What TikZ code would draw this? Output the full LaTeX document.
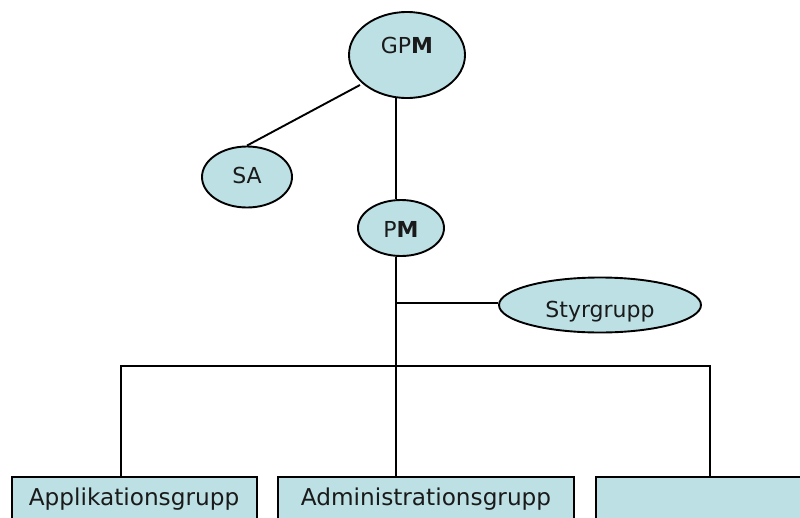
\documentclass[tikz,border=0pt]{standalone}
\usepackage{fontspec}
\setmainfont{DejaVu Sans}
\usetikzlibrary{shapes.geometric,backgrounds}
\definecolor{boxfill}{RGB}{188,224,228}
\definecolor{ink}{RGB}{26,26,26}
\begin{document}
\begin{tikzpicture}[x=1pt,y=-1pt,
  oval/.style={ellipse,draw=black,line width=1.9pt,fill=boxfill,inner sep=0pt},
  grpbox/.style={rectangle,draw=black,line width=1.9pt,fill=boxfill,inner sep=0pt,anchor=north west},
  lbl/.style={anchor=base,text=ink,font=\fontsize{22}{24}\selectfont,inner sep=0pt},
  grplbl/.style={lbl,font=\fontsize{23.2}{25}\selectfont},
  wire/.style={draw=black,line width=1.9pt}]
\useasboundingbox (0,0) rectangle (800,517);
\clip (0,0) rectangle (800,517);

% ellipses
\node[oval,minimum width=116,minimum height=86] (GPM) at (407,55) {};
\node[oval,minimum width=90,minimum height=61] (SA) at (247,177) {};
\node[oval,minimum width=86,minimum height=56] (PM) at (401,228) {};
\node[oval,minimum width=202,minimum height=55] (Styr) at (600,305) {};

% group boxes along the bottom
\node[grpbox,minimum width=245,minimum height=60] (App) at (11,476) {};
\node[grpbox,minimum width=296,minimum height=60] (Adm) at (277,476) {};
\node[grpbox,minimum width=230,minimum height=60] (Third) at (595,476) {};

% labels
\node[lbl] (tGPM) at (407,53) {GP\textbf{M}};
\node[lbl] (tSA) at (247,183) {SA};
\node[lbl] (tPM) at (401,237) {P\textbf{M}};
\node[lbl] (tStyr) at (600,317) {Styrgrupp};
\node[grplbl] (tApp) at (134,505) {Applikationsgrupp};
\node[grplbl] (tAdm) at (426,505) {Administrationsgrupp};

% connectors
\coordinate (stemtop) at (396,90);
\coordinate (sajoin) at (360,85);
\coordinate (busL) at (121,366);
\coordinate (busR) at (710,366);
\coordinate (styrjoin) at (396,303);
\begin{pgfonlayer}{background}
  \draw[wire] (sajoin) -- (SA.north);
  \draw[wire] (stemtop) -- (stemtop |- PM.north);
  \draw[wire] (PM.south -| stemtop) -- (stemtop |- Adm.north);
  \draw[wire] (styrjoin) -- (Styr.west |- styrjoin);
  \draw[wire] (busL |- App.north) -- (busL) -- (busR) -- (busR |- Third.north);
\end{pgfonlayer}
\end{tikzpicture}
\end{document}
